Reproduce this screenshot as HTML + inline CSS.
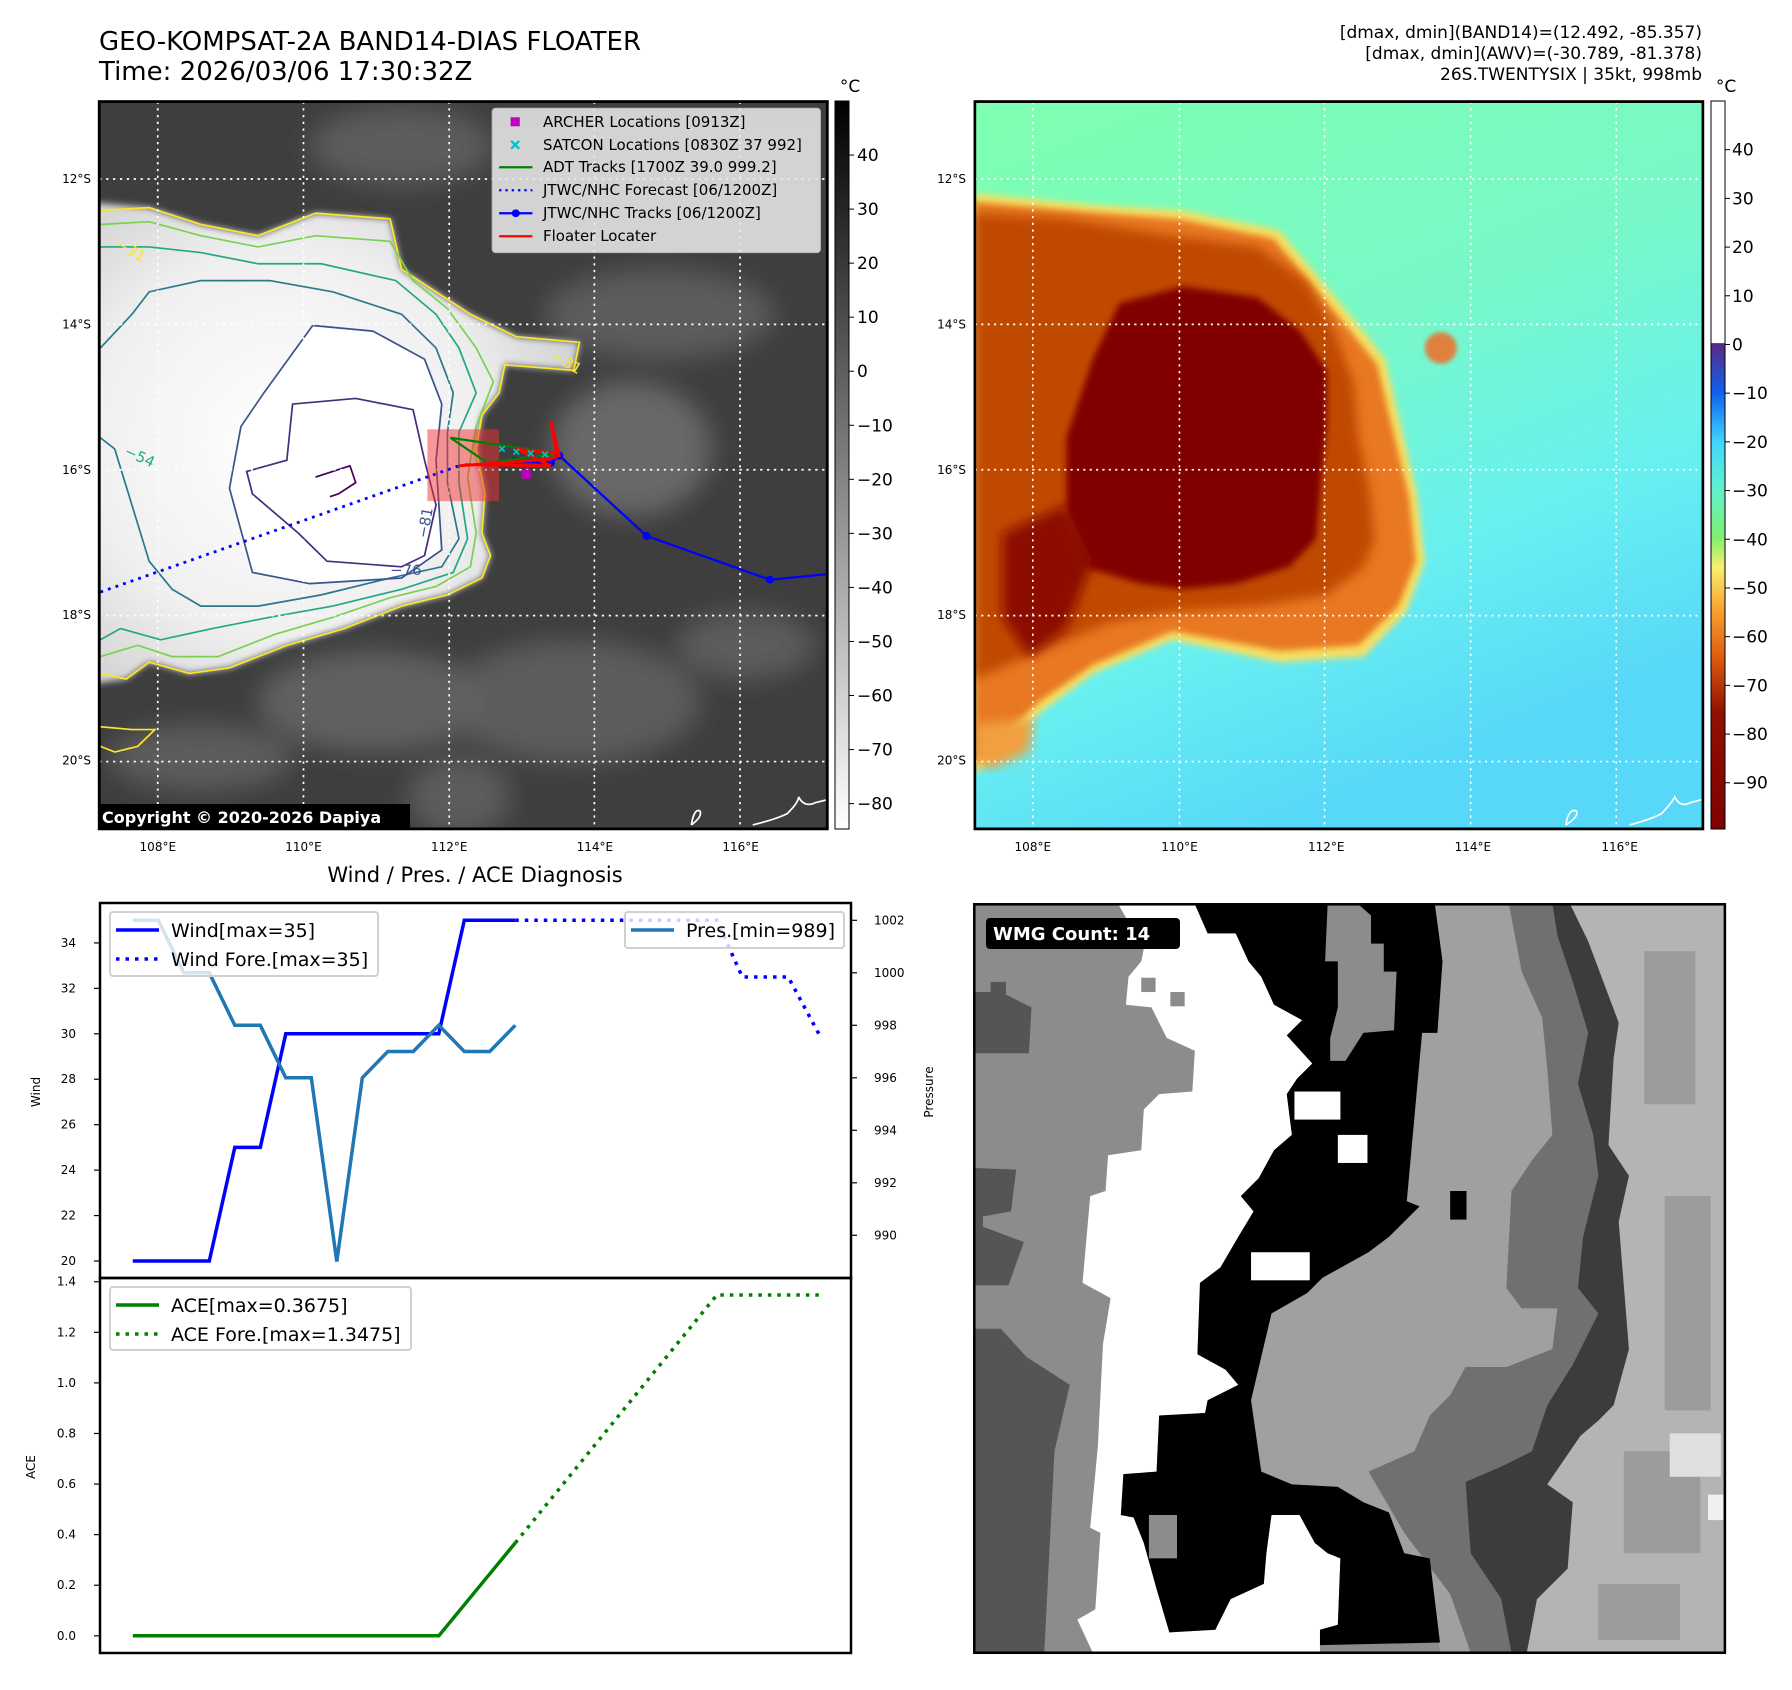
<!DOCTYPE html>
<html><head><meta charset="utf-8"><style>
html,body{margin:0;padding:0;background:#fff}
svg{display:block;font-family:"DejaVu Sans","Liberation Sans",sans-serif}
</style></head><body>
<svg id="root" width="1792" height="1690" viewBox="0 0 1792 1690" xmlns="http://www.w3.org/2000/svg">
<defs>
<filter id="b4"><feGaussianBlur stdDeviation="4"/></filter>
<filter id="b6"><feGaussianBlur stdDeviation="6"/></filter>
<filter id="b10"><feGaussianBlur stdDeviation="10"/></filter>
<filter id="b20"><feGaussianBlur stdDeviation="22"/></filter>
<clipPath id="c1"><rect x="173" y="181" width="1269" height="1296"/></clipPath>
<clipPath id="c2"><rect x="28" y="181" width="1370" height="1296"/></clipPath>
<clipPath id="c4"><rect x="28" y="28" width="1470" height="1467"/></clipPath>
<linearGradient id="cb1" x1="0" y1="0" x2="0" y2="1"><stop offset="0" stop-color="#000"/><stop offset="1" stop-color="#fff"/></linearGradient>
<linearGradient id="cb2" x1="0" y1="0" x2="0" y2="1">
<stop offset="0" stop-color="#fff"/><stop offset="0.332" stop-color="#fff"/><stop offset="0.333" stop-color="#5a2a80"/>
<stop offset="0.4" stop-color="#1060f0"/><stop offset="0.47" stop-color="#40d8ff"/><stop offset="0.53" stop-color="#60f0d0"/>
<stop offset="0.6" stop-color="#80f070"/><stop offset="0.64" stop-color="#f8f070"/><stop offset="0.7" stop-color="#f8a030"/>
<stop offset="0.76" stop-color="#e06010"/><stop offset="0.84" stop-color="#901000"/><stop offset="1" stop-color="#800000"/></linearGradient>
<linearGradient id="bg2" x1="0" y1="0" x2="0.4" y2="1"><stop offset="0" stop-color="#7effb0"/><stop offset="0.45" stop-color="#78f8c8"/><stop offset="0.75" stop-color="#68f0f0"/><stop offset="1" stop-color="#58d8f8"/></linearGradient>
<radialGradient id="cloud1" cx="0.4" cy="0.5" r="0.65"><stop offset="0" stop-color="#fff"/><stop offset="0.6" stop-color="#f0f0f0"/><stop offset="1" stop-color="#cfcfcf"/></radialGradient>
</defs>
<rect width="1792" height="1690" fill="#fff"/>

<text x="99" y="50" font-size="26" fill="#000">GEO-KOMPSAT-2A BAND14-DIAS FLOATER</text>
<text x="99" y="80" font-size="26" fill="#000">Time: 2026/03/06 17:30:32Z</text>
<g font-size="17" text-anchor="end" fill="#000">
<text x="1702" y="38">[dmax, dmin](BAND14)=(12.492, -85.357)</text>
<text x="1702" y="59">[dmax, dmin](AWV)=(-30.789, -81.378)</text>
<text x="1702" y="80">26S.TWENTYSIX | 35kt, 998mb</text>
</g>

<g transform="scale(0.5737,0.5612)">
<g clip-path="url(#c1)">
<rect x="173" y="181" width="1269" height="1296" fill="#3e3e3e"/>
<g filter="url(#b20)" fill="#5c5c5c">
<ellipse cx="700" cy="260" rx="160" ry="70"/><ellipse cx="1150" cy="560" rx="200" ry="80"/>
<ellipse cx="1100" cy="800" rx="140" ry="120" fill="#686868"/><ellipse cx="1000" cy="1250" rx="220" ry="110"/>
<ellipse cx="1300" cy="1150" rx="120" ry="60"/><ellipse cx="650" cy="1250" rx="200" ry="90" fill="#606060"/>
<ellipse cx="350" cy="1350" rx="160" ry="60"/><ellipse cx="800" cy="1420" rx="90" ry="70"/>
</g>
<polygon filter="url(#b6)" fill="url(#cloud1)" points="150,360 260,370 350,400 450,420 550,380 680,390 700,480 760,520 820,560 900,600 1010,610 1000,660 880,650 870,700 840,740 830,800 845,880 840,950 855,990 840,1030 780,1060 700,1080 600,1120 500,1150 400,1190 330,1200 260,1180 220,1210 150,1220"/>
<polygon fill="#fff" points="545,580 650,590 740,640 770,720 760,820 770,980 700,1030 540,1040 440,1020 400,870 420,760 460,700"/>
<g fill="none" stroke-width="3">
<polyline stroke="#fde725" points="175,375 260,370 350,400 450,420 550,380 680,390 700,480 760,520 820,560 900,600 1010,610 1000,660 880,650 870,700 840,740 830,800 845,880 840,950 855,990 840,1030 780,1060 700,1080 600,1120 500,1150 400,1190 330,1200 260,1180 220,1210 175,1200"/>
<polyline stroke="#7ad151" points="175,400 260,395 350,420 450,440 550,420 680,430 720,500 780,550 830,620 860,680 830,760 815,850 830,950 820,1010 760,1045 680,1065 580,1100 480,1130 380,1170 300,1170 240,1150 175,1170"/>
<polyline stroke="#22a884" points="175,440 260,440 350,450 450,470 560,470 690,500 760,560 800,620 830,700 800,770 800,860 815,960 790,1020 700,1050 580,1080 470,1100 370,1120 280,1140 210,1120 175,1140"/>
<polyline stroke="#2a788e" points="175,620 230,560 260,520 350,500 470,500 580,520 700,560 760,620 790,700 780,770 780,860 800,960 770,1010 680,1030 560,1060 450,1080 350,1080 300,1050 260,1000 230,900 200,800 175,780"/>
<polygon stroke="#3b528b" points="545,580 650,590 740,640 770,720 760,820 770,980 700,1030 540,1040 440,1020 400,870 420,760 460,700"/>
<polygon stroke="#472d7b" points="510,720 620,710 720,730 740,820 760,900 740,990 700,1010 570,1000 520,950 440,880 430,840 500,820"/>
<polyline stroke="#440154" points="550,850 580,840 610,830 620,860 590,880 575,885"/>
<polyline stroke="#fde725" points="175,1295 230,1300 270,1300 240,1330 200,1340 175,1330"/>
</g>
<g font-size="26" fill="#fde725"><text x="200" y="440" transform="rotate(30 200 440)">−31</text><text x="960" y="640" transform="rotate(30 960 640)">−31</text></g>
<g font-size="26" fill="#22a884"><text x="215" y="810" transform="rotate(25 215 810)">−54</text></g>
<g font-size="26" fill="#3b528b"><text x="680" y="1025">−76</text><text x="745" y="960" transform="rotate(-80 745 960)">−81</text></g>
<g stroke="#fff" stroke-width="3" stroke-dasharray="4,8">
<line x1="275" y1="181" x2="275" y2="1477"/><line x1="529" y1="181" x2="529" y2="1477"/><line x1="783" y1="181" x2="783" y2="1477"/><line x1="1036" y1="181" x2="1036" y2="1477"/><line x1="1290" y1="181" x2="1290" y2="1477"/>
<line x1="173" y1="319" x2="1442" y2="319"/><line x1="173" y1="578" x2="1442" y2="578"/><line x1="173" y1="837" x2="1442" y2="837"/><line x1="173" y1="1097" x2="1442" y2="1097"/><line x1="173" y1="1357" x2="1442" y2="1357"/>
</g>
<rect x="745" y="765" width="125" height="128" fill="#f03030" opacity="0.5"/>
<polyline points="175,1055 800,830" fill="none" stroke="#0000ff" stroke-width="5" stroke-dasharray="5,9"/>
<polyline points="800,830 897,822 960,825 975,812 1127,955 1342,1033 1442,1023" fill="none" stroke="#0000ff" stroke-width="4"/>
<g fill="#0000ff"><circle cx="897" cy="822" r="7"/><circle cx="960" cy="825" r="7"/><circle cx="975" cy="812" r="7"/><circle cx="1127" cy="955" r="7"/><circle cx="1342" cy="1033" r="7"/></g>
<polyline points="785,780 970,808 850,825 785,780" fill="none" stroke="#008000" stroke-width="4"/>
<polyline points="800,830 960,818 975,812 960,750 970,808 900,800 960,830 810,828" fill="none" stroke="#ff0000" stroke-width="5"/>
<g stroke="#00c0c0" stroke-width="3"><path d="M870 795 l10 10 m0 -10 l-10 10 M895 800 l10 10 m0 -10 l-10 10 M920 803 l10 10 m0 -10 l-10 10 M945 805 l10 10 m0 -10 l-10 10"/></g>
<rect x="909" y="837" width="16" height="16" fill="#c000c0"/>
<path d="M1205 1470 q5 -30 15 -25 q5 10 -15 25 M1312 1470 q40 -10 60 -20 q20 -20 20 -30 q10 20 30 10 l20 -5" fill="none" stroke="#fff" stroke-width="3"/>
<g>
<rect x="858" y="193" width="572" height="257" rx="6" fill="#e8e8e8" opacity="0.88" stroke="#ccc" stroke-width="2"/>
<rect x="890" y="209" width="16" height="16" fill="#c000c0"/>
<path d="M891 251 l14 14 m0 -14 l-14 14" stroke="#00c0c0" stroke-width="4"/>
<line x1="870" y1="298" x2="928" y2="298" stroke="#008000" stroke-width="4"/>
<line x1="870" y1="339" x2="928" y2="339" stroke="#0000ff" stroke-width="4" stroke-dasharray="4,7"/>
<line x1="870" y1="380" x2="928" y2="380" stroke="#0000ff" stroke-width="4"/><circle cx="899" cy="380" r="7" fill="#0000ff"/>
<line x1="870" y1="421" x2="928" y2="421" stroke="#ff0000" stroke-width="4"/>
</g>
</g>
<rect x="173" y="181" width="1269" height="1296" fill="none" stroke="#000" stroke-width="5"/>
</g>
<g font-size="15" fill="#000">
<text x="543" y="127">ARCHER Locations [0913Z]</text>
<text x="543" y="150">SATCON Locations [0830Z 37 992]</text>
<text x="543" y="172">ADT Tracks [1700Z 39.0 999.2]</text>
<text x="543" y="195">JTWC/NHC Forecast [06/1200Z]</text>
<text x="543" y="218">JTWC/NHC Tracks [06/1200Z]</text>
<text x="543" y="241">Floater Locater</text>
</g>
<rect x="99" y="804" width="311" height="25" fill="#000"/>
<text x="102" y="823" font-size="16" font-weight="bold" fill="#fff">Copyright © 2020-2026 Dapiya</text>

<g transform="translate(960,0) scale(0.5314,0.5612)">
<g clip-path="url(#c2)">
<rect x="28" y="181" width="1370" height="1296" fill="url(#bg2)"/>
<polygon filter="url(#b6)" fill="#f8e060" points="28,345 250,365 420,375 600,410 680,500 750,580 800,640 820,720 860,880 875,1000 840,1090 760,1170 600,1180 400,1140 250,1200 150,1270 28,1380"/>
<polygon filter="url(#b6)" fill="#e87820" points="28,360 240,378 410,390 590,425 665,510 735,590 785,650 805,730 845,885 858,1000 825,1080 750,1150 600,1160 400,1125 250,1185 150,1250 28,1360"/>
<polygon filter="url(#b10)" fill="#c04800" points="28,380 200,390 400,420 560,440 650,500 700,580 740,680 750,780 770,870 780,960 760,1010 690,1060 560,1080 400,1090 280,1110 150,1160 28,1210"/>
<polygon filter="url(#b6)" fill="#800000" points="300,540 420,510 560,530 640,590 690,660 690,760 680,850 670,960 620,1010 520,1040 420,1050 340,1040 230,1010 200,920 200,780 250,640"/>
<polygon filter="url(#b10)" fill="#8c0800" points="80,950 200,900 250,1000 200,1120 130,1170 80,1100"/>
<ellipse filter="url(#b4)" cx="905" cy="620" rx="30" ry="28" fill="#e08040"/>
<polygon filter="url(#b10)" fill="#f0a040" points="28,1290 140,1280 130,1340 60,1370 28,1360"/>
<g stroke="#fff" stroke-width="3" stroke-dasharray="4,8">
<line x1="137" y1="181" x2="137" y2="1477"/><line x1="413" y1="181" x2="413" y2="1477"/><line x1="686" y1="181" x2="686" y2="1477"/><line x1="961" y1="181" x2="961" y2="1477"/><line x1="1235" y1="181" x2="1235" y2="1477"/>
<line x1="28" y1="319" x2="1398" y2="319"/><line x1="28" y1="578" x2="1398" y2="578"/><line x1="28" y1="837" x2="1398" y2="837"/><line x1="28" y1="1097" x2="1398" y2="1097"/><line x1="28" y1="1357" x2="1398" y2="1357"/>
</g>
<path d="M1140 1470 q5 -30 20 -25 q5 10 -20 25 M1260 1470 q40 -10 60 -20 q20 -20 25 -30 q10 20 30 10 l20 -5" fill="none" stroke="#fff" stroke-width="3"/>
</g>
<rect x="28" y="181" width="1370" height="1296" fill="none" stroke="#000" stroke-width="5"/>
</g>

<rect x="835" y="101" width="14" height="728" fill="url(#cb1)" stroke="#000" stroke-width="1"/>
<rect x="1711" y="101" width="14" height="728" fill="url(#cb2)" stroke="#000" stroke-width="1"/>
<g id="cbticks" font-size="17" fill="#000"></g>
<g id="mapticks" font-size="12" fill="#000"></g>

<text x="475" y="882" font-size="21" text-anchor="middle">Wind / Pres. / ACE Diagnosis</text>
<g id="diag"></g>

<g transform="translate(960,890) scale(0.5106,0.5102)">
<g clip-path="url(#c4)">
<rect x="28" y="28" width="1470" height="1467" fill="#8c8c8c"/>
<polygon fill="#b4b4b4" points="1190,28 1498,28 1498,1495 1100,1495 1130,1390 1190,1330 1200,1200 1150,1165 1215,1070 1250,1040 1280,1010 1310,900 1290,650 1310,560 1270,500 1280,330 1290,260 1230,100"/>
<g fill="#9c9c9c"><rect x="1340" y="120" width="100" height="300"/><rect x="1380" y="600" width="90" height="420"/><rect x="1300" y="1100" width="150" height="200"/><rect x="1250" y="1360" width="160" height="110"/></g>
<rect x="1390" y="1065" width="100" height="85" fill="#e0e0e0"/><rect x="1465" y="1185" width="30" height="50" fill="#f0f0f0"/>
<polygon fill="#3c3c3c" points="1160,28 1195,28 1230,100 1290,260 1280,330 1270,500 1310,560 1290,650 1310,900 1280,1010 1250,1040 1215,1070 1150,1165 1200,1200 1190,1330 1130,1390 1110,1495 1060,1495 1060,1390 1000,1300 990,1160 1060,1130 1120,1100 1150,1010 1200,930 1250,830 1210,780 1220,680 1250,560 1240,480 1210,380 1230,280 1200,180 1170,90"/>
<polygon fill="#707070" points="1075,28 1160,28 1170,90 1200,180 1230,280 1210,380 1240,480 1250,560 1220,680 1210,780 1250,830 1200,930 1150,1010 1120,1100 1060,1130 990,1160 1000,1300 1060,1390 1080,1495 1000,1495 960,1380 870,1260 800,1140 890,1100 920,1030 960,990 990,935 1070,935 1160,900 1170,820 1100,820 1070,780 1080,590 1120,530 1160,480 1150,350 1140,250 1100,160"/>
<polygon fill="#a0a0a0" points="930,28 1075,28 1100,160 1140,250 1150,350 1160,480 1120,530 1080,590 1070,780 1100,820 1170,820 1160,900 1070,935 990,935 960,990 920,1030 890,1100 800,1140 870,1260 960,1380 1000,1495 940,1495 920,1310 870,1300 840,1220 790,1200 740,1170 650,1165 590,1140 570,1000 610,830 680,790 710,760 800,710 840,680 900,620 875,610 895,280 905,140 895,50"/>
<polygon fill="#555" points="28,200 60,200 60,180 90,180 90,205 140,230 135,320 28,320"/>
<polygon fill="#555" points="28,545 110,548 100,630 45,640 45,660 125,690 95,775 28,775"/>
<polygon fill="#555" points="28,860 80,860 130,915 215,970 185,1100 165,1495 28,1495"/>
<polygon fill="#fff" points="310,28 460,28 485,85 540,85 565,140 590,170 615,225 670,255 640,285 690,340 660,370 640,400 650,480 615,510 585,565 550,600 575,630 545,680 510,740 470,770 465,910 520,940 545,970 485,1000 480,1025 390,1030 385,1140 320,1145 315,1225 340,1230 360,1280 385,1370 410,1455 500,1450 530,1390 595,1360 600,1300 610,1225 665,1225 695,1280 720,1300 745,1310 740,1440 705,1450 705,1495 260,1495 230,1430 265,1410 275,1260 255,1250 270,1090 280,890 295,800 240,770 255,600 285,590 290,520 355,510 360,430 390,400 455,395 460,315 405,290 375,230 325,225 330,170 355,140 360,115"/>
<polygon fill="#000" points="460,28 720,28 715,140 740,140 740,230 725,290 725,335 755,335 790,280 850,275 855,160 830,160 830,105 805,105 805,50 780,28 930,28 945,140 935,280 905,280 875,610 900,620 840,680 800,710 710,760 680,790 610,830 570,1000 590,1140 650,1165 740,1170 790,1200 840,1220 870,1300 920,1310 940,1475 705,1480 705,1450 740,1440 745,1310 720,1300 695,1280 665,1225 610,1225 600,1300 595,1360 530,1390 500,1450 410,1455 385,1370 360,1280 340,1230 315,1225 320,1145 385,1140 390,1030 480,1025 485,1000 545,970 520,940 465,910 470,770 510,740 545,680 575,630 550,600 585,565 615,510 650,480 640,400 660,370 690,340 640,285 670,255 615,225 590,170 565,140 540,85 485,85"/>
<g fill="#fff"><rect x="740" y="480" width="58" height="55"/><rect x="570" y="710" width="115" height="55"/><rect x="655" y="395" width="90" height="55"/></g>
<g fill="#8c8c8c"><rect x="355" y="172" width="28" height="28"/><rect x="412" y="200" width="28" height="28"/><rect x="370" y="1225" width="55" height="85"/></g>
<rect x="960" y="590" width="32" height="56" fill="#000"/>
</g>
<rect x="28" y="28" width="1470" height="1467" fill="none" stroke="#000" stroke-width="5"/>
</g>
<rect x="986" y="918" width="194" height="31" rx="4" fill="#000"/>
<text x="993" y="940" font-size="18" font-weight="bold" fill="#fff">WMG Count: 14</text>
</svg>
<script>
const windIdx = [0,1,2,3,4,5,6,7,8,9,10,11,12,13,14,15];
const windVals = [20,20,20,20,25,25,30,30,30,30,30,30,30,35,35,35];
const windForeIdx = [15,22.9,23.9,25.7,26.9];
const windForeVals = [35,35,32.5,32.5,30];
const presVals = [1002,1002,1000,1000,998,998,996,996,989,996,997,997,998,997,997,998];
const aceVals = [0,0,0,0,0,0,0,0,0,0,0,0,0,0.1225,0.245,0.3675];
const aceForeIdx = [15,22.9,26.9];
const aceForeVals = [0.3675,1.3475,1.3475];
const windTicks = [20,22,24,26,28,30,32,34];
const presTicks = [990,992,994,996,998,1000,1002];
const aceTicks = ["0.0","0.2","0.4","0.6","0.8","1.0","1.2","1.4"];
const cbIrTicks = [40,30,20,10,0,-10,-20,-30,-40,-50,-60,-70,-80];
const cbAwvTicks = [40,30,20,10,0,-10,-20,-30,-40,-50,-60,-70,-80,-90];
const lonTicks = [108,110,112,114,116];
const latTicks = [12,14,16,18,20];

const NS='http://www.w3.org/2000/svg';
function mk(tag, attrs, parent){const e=document.createElementNS(NS,tag);for(const k in attrs)e.setAttribute(k,attrs[k]);parent.appendChild(e);return e;}
const xs = i => 132.8 + 25.5*i;
const wy = v => 1261 - (v-20)*22.72;
const py = p => 920.3 + (1002-p)*26.25;
const ay = v => 1635.8 - v*252.9;
const diag = document.getElementById('diag');

let f1 = mk('rect',{x:100,y:903,width:751,height:375,fill:'none',stroke:'#000','stroke-width':2.5},diag);


let f2 = mk('rect',{x:100,y:1278,width:751,height:375,fill:'none',stroke:'#000','stroke-width':2.5},diag);



windTicks.forEach(v=>{
  mk('line',{x1:94,x2:100,y1:wy(v),y2:wy(v),stroke:'#000','stroke-width':1.2},diag);
  const t=mk('text',{x:76,y:wy(v)+4,'font-size':12,'text-anchor':'end'},diag);t.textContent=v;
  
  
});
presTicks.forEach(v=>{
  mk('line',{x1:851,x2:857,y1:py(v),y2:py(v),stroke:'#000','stroke-width':1.2},diag);
  const t=mk('text',{x:874,y:py(v)+4,'font-size':12},diag);t.textContent=v;
  
  
});
aceTicks.forEach(s=>{
  const v=parseFloat(s);
  mk('line',{x1:94,x2:100,y1:ay(v),y2:ay(v),stroke:'#000','stroke-width':1.2},diag);
  const t=mk('text',{x:76,y:ay(v)+4,'font-size':12,'text-anchor':'end'},diag);t.textContent=s;
  
  
});
function ylab(txt,x,y,name){const t=mk('text',{x:x,y:y,'font-size':12,'text-anchor':'middle',transform:`rotate(-90 ${x} ${y})`},diag);t.textContent=txt;
  
  }
ylab('Wind',40,1092,'wind-axis-title');
ylab('Pressure',933,1092,'pressure-axis-title');
ylab('ACE',35,1467,'ace-axis-title');

function line(idx, vals, yf, color, dash, name){
  const pts = idx.map((i,k)=>xs(i).toFixed(1)+','+yf(vals[k]).toFixed(1)).join(' ');
  const a={points:pts,fill:'none',stroke:color,'stroke-width':3.5};
  if(dash){a['stroke-dasharray']='3.5,6';}
  const p=mk('polyline',a,diag);
  
  
}
line(windIdx, windVals, wy, '#0000ff', false, 'wind-line');
line(windForeIdx, windForeVals, wy, '#0000ff', true, 'wind-forecast-line');
line(windIdx, presVals, py, '#1f77b4', false, 'pressure-line');
line(windIdx, aceVals, ay, '#008000', false, 'ace-line');
line(aceForeIdx, aceForeVals, ay, '#008000', true, 'ace-forecast-line');

function legend(x,y,w,h,items,name){
  const g=mk('g',{},diag);
  
  
  mk('rect',{x:x,y:y,width:w,height:h,rx:3,fill:'#fff','fill-opacity':0.8,stroke:'#d0d0d0','stroke-width':2},g);
  items.forEach((it,k)=>{
    const yy=y+18+k*29;
    const a={x1:x+6,x2:x+49,y1:yy,y2:yy,stroke:it[1],'stroke-width':3.5};
    if(it[2])a['stroke-dasharray']='3.5,6';
    mk('line',a,g);
    const t=mk('text',{x:x+61,y:yy+7,'font-size':19},g);t.textContent=it[0];
  });
}
legend(110,912,268,64,[['Wind[max=35]','#0000ff',false],['Wind Fore.[max=35]','#0000ff',true]],'wind-legend');
legend(625,912,219,36,[['Pres.[min=989]','#1f77b4',false]],'pressure-legend');
legend(110,1287,301,63,[['ACE[max=0.3675]','#008000',false],['ACE Fore.[max=1.3475]','#008000',true]],'ace-legend');

const cbg=document.getElementById('cbticks');
cbIrTicks.forEach(v=>{const y=101+(50-v)*(728/134.7);
  mk('line',{x1:849,x2:854,y1:y,y2:y,stroke:'#000'},cbg);
  const t=mk('text',{x:857,y:y+6},cbg);t.textContent=(v<0?'−'+(-v):v);
  
  });
cbAwvTicks.forEach(v=>{const y=101+(50-v)*(728/149.5);
  mk('line',{x1:1725,x2:1730,y1:y,y2:y,stroke:'#000'},cbg);
  const t=mk('text',{x:1732,y:y+6},cbg);t.textContent=(v<0?'−'+(-v):v);
  
  });
[[850,'ir-colorbar-unit'],[1726,'awv-colorbar-unit']].forEach(a=>{const t=mk('text',{x:a[0],y:92,'text-anchor':'middle'},cbg);t.textContent='°C';
  
  });

const mt=document.getElementById('mapticks');
const lonX1 = l => 157.8 + (l-108)*72.85;
const lonX2 = l => 1032.8 + (l-108)*73.35;
const latY = l => 179 + (l-12)*72.7;
lonTicks.forEach(l=>{
  [lonX1(l),lonX2(l)].forEach(x=>{const t=mk('text',{x:x,y:851,'text-anchor':'middle'},mt);t.textContent=l+'°E';
    
    });
});
latTicks.forEach(l=>{
  [91,966].forEach(x=>{const t=mk('text',{x:x,y:latY(l)+4,'text-anchor':'end'},mt);t.textContent=l+'°S';
    
    });
});
</script>
</body></html>
